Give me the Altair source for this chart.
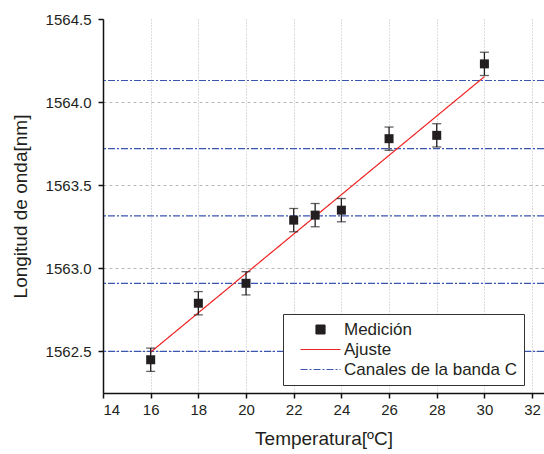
import altair as alt
import pandas as pd

# Measured wavelength vs. temperature
temp_c = [16, 18, 20, 22, 22.9, 24, 26, 28, 30]
wavelength_nm = [1562.45, 1562.79, 1562.91, 1563.29, 1563.32, 1563.35, 1563.78, 1563.80, 1564.23]
error_nm = [0.07, 0.07, 0.07, 0.07, 0.07, 0.07, 0.07, 0.07, 0.07]

# Linear fit endpoints
fit_temp = [16, 30]
fit_wavelength = [1562.496, 1564.153]

# C-band channel wavelengths
channel_nm = [1562.50, 1562.91, 1563.315, 1563.72, 1564.13]

x_ticks = [14, 16, 18, 20, 22, 24, 26, 28, 30, 32]
y_ticks = [1562.5, 1563.0, 1563.5, 1564.0, 1564.5]

series_names = ["Medición", "Ajuste", "Canales de la banda C"]
series_colors = ["#231f20", "#ee2222", "#3a56b0"]

FONT = "Liberation Sans"
INK = "#231f20"

meas = pd.DataFrame({
    "t": temp_c,
    "wl": wavelength_nm,
    "lo": [w - e for w, e in zip(wavelength_nm, error_nm)],
    "hi": [w + e for w, e in zip(wavelength_nm, error_nm)],
    "serie": series_names[0],
})
fit = pd.DataFrame({"t": fit_temp, "wl": fit_wavelength, "serie": series_names[1]})
chan = pd.DataFrame({"wl": channel_nm, "serie": series_names[2]})

x_scale = alt.Scale(domain=[14, 32.5], nice=False, zero=False)
y_scale = alt.Scale(domain=[1562.25, 1564.5], nice=False, zero=False)

legend = alt.Legend(
    title=None,
    orient="none",
    legendX=180,
    legendY=295,
    padding=7,
    strokeColor="#333333",
    fillColor="white",
    labelFont=FONT,
    labelFontSize=17,
    labelColor=INK,
    labelLimit=400,
    labelOffset=15,
    symbolOffset=22,
    symbolSize=100,
    symbolStrokeWidth=1.2,
    rowPadding=2,
)
series_scale = alt.Scale(domain=series_names, range=series_colors)
color = alt.Color("serie:N", scale=series_scale, legend=legend)
stroke = alt.Stroke("serie:N", scale=series_scale, legend=legend)
shape = alt.Shape(
    "serie:N",
    scale=alt.Scale(
        domain=series_names,
        range=["M-0.9,-0.9H0.9V0.9H-0.9Z", "M-4,0H4", "M-4,0H4"],
    ),
    legend=legend,
)
dash = alt.StrokeDash(
    "serie:N",
    scale=alt.Scale(domain=series_names, range=[[1, 0], [1, 0], [7, 2, 2, 2]]),
    legend=legend,
)

x_axis = alt.Axis(
    values=x_ticks, format="d", title="Temperatura[ºC]",
    gridDash=[1, 2], gridColor="#b8b8b8", titlePadding=12,
)
y_axis = alt.Axis(
    values=y_ticks, format=".1f", title="Longitud de onda[nm]",
    gridDash=[3, 3], gridColor="#b8b8b8", titlePadding=15, labelPadding=7,
    gridOpacity={"condition": {"test": "datum.value >= 1564.5", "value": 0}, "value": 1},
)

channels = alt.Chart(chan).mark_rule(strokeWidth=1.2).encode(
    y=alt.Y("wl:Q", scale=y_scale, axis=y_axis),
    color=color,
    stroke=stroke,
    strokeDash=dash,
)

fit_line = alt.Chart(fit).mark_line(strokeWidth=1.2).encode(
    x=alt.X("t:Q", scale=x_scale, axis=x_axis),
    y=alt.Y("wl:Q", scale=y_scale),
    color=color,
    stroke=stroke,
    strokeDash=dash,
)

bars = alt.Chart(meas).mark_rule(color=INK, strokeWidth=1.3).encode(
    x=alt.X("t:Q", scale=x_scale),
    y=alt.Y("lo:Q", scale=y_scale),
    y2="hi:Q",
)
caps_lo = alt.Chart(meas).mark_tick(color=INK, orient="horizontal", size=9, thickness=1.3).encode(
    x=alt.X("t:Q", scale=x_scale),
    y=alt.Y("lo:Q", scale=y_scale),
)
caps_hi = alt.Chart(meas).mark_tick(color=INK, orient="horizontal", size=9, thickness=1.3).encode(
    x=alt.X("t:Q", scale=x_scale),
    y=alt.Y("hi:Q", scale=y_scale),
)

points = alt.Chart(meas).mark_point(filled=True, size=100, opacity=1).encode(
    x=alt.X("t:Q", scale=x_scale),
    y=alt.Y("wl:Q", scale=y_scale),
    color=color,
    shape=shape,
)

chart = alt.layer(channels, fit_line, bars, caps_lo, caps_hi, points).properties(
    width=441,
    height=374,
    autosize=alt.AutoSizeParams(type="none"),
    padding={"left": 103, "top": 19, "right": 0, "bottom": 61},
    background="white",
).configure_view(
    stroke=None,
).configure_axis(
    labelFont=FONT,
    labelFontSize=15,
    labelColor=INK,
    titleFont=FONT,
    titleFontSize=19,
    titleFontWeight="normal",
    titleColor=INK,
    domainColor="#111111",
    domainWidth=1.5,
    tickColor="#111111",
    tickWidth=1.5,
    tickSize=5,
    labelPadding=4,
    grid=True,
    gridWidth=1,
)

chart.save("out.html", embed_options={"renderer": "svg", "actions": False})
